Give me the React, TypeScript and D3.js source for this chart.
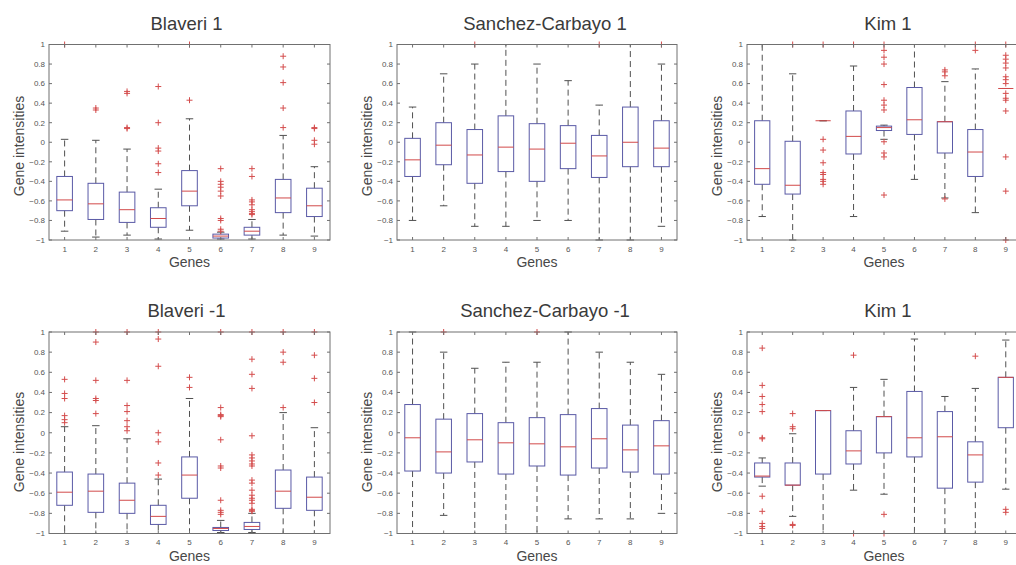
import React from "react";
import * as d3 from "d3";

// ---------- data ----------
const genes = ["1", "2", "3", "4", "5", "6", "7", "8", "9"];
const yTickValues = [-1, -0.8, -0.6, -0.4, -0.2, 0, 0.2, 0.4, 0.6, 0.8, 1];
const titles = ["Blaveri 1", "Sanchez-Carbayo 1", "Kim 1", "Blaveri -1", "Sanchez-Carbayo -1", "Kim 1"];

// stats per gene: [lowerWhisker, q1, median, q3, upperWhisker]
const blaveriPosStats = [
  [-0.91, -0.7, -0.59, -0.35, 0.03],
  [-0.97, -0.79, -0.63, -0.42, 0.02],
  [-0.95, -0.82, -0.69, -0.51, -0.07],
  [-0.99, -0.87, -0.78, -0.67, -0.48],
  [-0.9, -0.65, -0.5, -0.29, 0.24],
  [-0.99, -0.98, -0.96, -0.94, -0.92],
  [-0.99, -0.95, -0.91, -0.87, -0.79],
  [-0.95, -0.72, -0.57, -0.38, 0.07],
  [-0.96, -0.76, -0.65, -0.47, -0.25],
];
const blaveriPosOutliers = [
  [1.0],
  [0.33, 0.35],
  [0.14, 0.15, 0.5, 0.52],
  [-0.31, -0.22, -0.09, -0.06, 0.2, 0.57],
  [0.43, 1.0],
  [-0.27, -0.4, -0.43, -0.46, -0.5, -0.55, -0.78, -0.8, -0.89, -0.91],
  [-0.27, -0.35, -0.59, -0.61, -0.64, -0.69, -0.71, -0.73, -0.74],
  [0.15, 0.35, 0.61, 0.77, 0.88],
  [-0.02, 0.02, 0.14, 0.15],
];

const sanchezPosStats = [
  [-0.8, -0.35, -0.18, 0.04, 0.36],
  [-0.65, -0.23, -0.03, 0.2, 0.7],
  [-0.86, -0.42, -0.13, 0.13, 0.8],
  [-0.86, -0.3, -0.05, 0.27, 1.0],
  [-0.8, -0.4, -0.07, 0.19, 0.8],
  [-0.8, -0.27, -0.01, 0.17, 0.63],
  [-1.0, -0.36, -0.14, 0.07, 0.38],
  [-1.0, -0.25, 0.0, 0.36, 1.0],
  [-0.86, -0.25, -0.06, 0.22, 0.8],
];
const sanchezPosOutliers = [[], [], [1.0], [], [], [], [1.0], [], [1.0]];

const kimPosStats = [
  [-0.76, -0.43, -0.27, 0.22, 1.0],
  [-1.0, -0.53, -0.44, 0.01, 0.7],
  [0.22, 0.22, 0.22, 0.22, 0.22],
  [-0.76, -0.12, 0.06, 0.32, 0.78],
  [0.03, 0.12, 0.15, 0.165, 0.175],
  [-0.38, 0.08, 0.23, 0.56, 1.0],
  [-0.57, -0.11, 0.21, 0.21, 0.62],
  [-0.72, -0.35, -0.1, 0.13, 0.75],
  [0.55, 0.55, 0.55, 0.55, 0.55],
];
const kimPosOutliers = [
  [],
  [1.0],
  [1.0, 0.03, -0.08, -0.21, -0.31, -0.33, -0.38, -0.4, -0.43],
  [1.0],
  [1.0, 0.94, 0.87, 0.8, 0.59, 0.43, 0.38, 0.33, 0.005, -0.11, -0.15, -0.54],
  [],
  [0.74, 0.72, 0.68, -0.58],
  [1.0, 0.94],
  [1.0, 0.89, 0.85, 0.81, 0.76, 0.67, 0.64, 0.6, 0.5, 0.45, 0.43, 0.32, -0.15, -0.5, -1.0],
];

const blaveriNegStats = [
  [-1.0, -0.72, -0.59, -0.39, 0.06],
  [-1.0, -0.79, -0.58, -0.41, 0.07],
  [-1.0, -0.8, -0.67, -0.5, -0.06],
  [-1.0, -0.91, -0.83, -0.72, -0.46],
  [-1.0, -0.65, -0.42, -0.24, 0.34],
  [-0.99, -0.97, -0.95, -0.94, -0.87],
  [-0.99, -0.96, -0.93, -0.89, -0.8],
  [-1.0, -0.75, -0.58, -0.37, 0.2],
  [-1.0, -0.77, -0.64, -0.44, 0.05],
];
const blaveriNegOutliers = [
  [0.1, 0.13, 0.17, 0.34, 0.39, 0.53],
  [0.19, 0.32, 0.34, 0.52, 0.9, 1.0],
  [0.02, 0.06, 0.12, 0.21, 0.27, 0.52, 1.0],
  [-0.42, -0.3, -0.09, 0.0, 0.66, 0.93, 1.0],
  [0.45, 0.55],
  [-0.81, -0.79, -0.77, -0.67, -0.35, -0.33, -0.07, 0.16, 0.17, 0.18, 0.25, 1.0],
  [-0.78, -0.77, -0.76, -0.7, -0.67, -0.65, -0.62, -0.57, -0.5, -0.47, -0.33, -0.31, -0.28, -0.25, -0.22, -0.03, 0.44, 0.58, 0.73, 1.0],
  [0.25, 0.7, 0.8, 1.0],
  [0.3, 0.54, 0.77, 1.0],
];

const sanchezNegStats = [
  [-1.0, -0.38, -0.05, 0.28, 1.0],
  [-0.82, -0.4, -0.19, 0.135, 0.8],
  [-1.0, -0.29, -0.07, 0.19, 0.64],
  [-1.0, -0.41, -0.1, 0.1, 0.7],
  [-1.0, -0.33, -0.11, 0.15, 0.7],
  [-0.855, -0.42, -0.14, 0.18, 1.0],
  [-0.855, -0.35, -0.06, 0.24, 0.8],
  [-0.855, -0.39, -0.17, 0.076, 0.7],
  [-0.8, -0.41, -0.13, 0.12, 0.58],
];
const sanchezNegOutliers = [[], [1.0], [], [], [1.0], [], [], [], []];

const kimNegStats = [
  [-0.53, -0.44, -0.43, -0.3, -0.25],
  [-0.83, -0.52, -0.52, -0.3, -0.01],
  [-1.0, -0.41, 0.22, 0.22, 0.22],
  [-0.57, -0.31, -0.18, 0.02, 0.45],
  [-0.61, -0.2, 0.16, 0.16, 0.53],
  [-1.0, -0.24, -0.05, 0.41, 0.93],
  [-1.0, -0.55, -0.04, 0.21, 0.36],
  [-1.0, -0.49, -0.22, -0.09, 0.44],
  [-0.56, 0.05, 0.55, 0.55, 0.92],
];
const kimNegOutliers = [
  [0.84, 0.47, 0.36, 0.28, 0.21, -0.05, -0.06, -0.63, -0.78, -0.9, -0.93, -0.95],
  [0.19, 0.06, 0.04, -0.91, -0.92],
  [],
  [0.77, -1.0],
  [-0.81, -1.0],
  [],
  [],
  [0.76],
  [-0.76, -0.79],
];

const panelStats = [blaveriPosStats, sanchezPosStats, kimPosStats, blaveriNegStats, sanchezNegStats, kimNegStats];
const panelOutliers = [blaveriPosOutliers, sanchezPosOutliers, kimPosOutliers, blaveriNegOutliers, sanchezNegOutliers, kimNegOutliers];

// ---------- layout ----------
const W = 1016;
const H = 565;
const colLeft = [49, 397, 747];
const colRight = [330, 677, 1021];
const colTitleDx = [-3, 8, 4];
const rowTop = [44.5, 332];
const rowBottom = [240, 533.5];
const rowTitleY = [30, 317];
const rowYLabelY = [146, 442];

const FONT = "'Liberation Sans', Arial, Helvetica, sans-serif";
const BOX = "#5a5aa6";
const MED = "#d24a4a";
const OUT = "#d44d4d";
const WHISK = "#505050";
const FRAME = "#707070";

function Panel({ idx }: { idx: number }) {
  const col = idx % 3;
  const row = Math.floor(idx / 3);
  const left = colLeft[col];
  const right = colRight[col];
  const top = rowTop[row];
  const bottom = rowBottom[row];
  const x = d3.scaleLinear().domain([0.5, 9.5]).range([left, right]);
  const y = d3.scaleLinear().domain([-1, 1]).range([bottom, top]);
  const step = x(2) - x(1);
  const bw = step * 0.5;
  const cw = step * 0.24;
  const stats = panelStats[idx];
  const outs = panelOutliers[idx];
  const cx = (left + right) / 2;

  return (
    <g>
      {stats.map((s, i) => {
        const gx = x(i + 1);
        const [lo, q1, med, q3, hi] = s;
        return (
          <g key={i}>
            {hi > q3 && (
              <line x1={gx} x2={gx} y1={y(q3)} y2={y(hi)} stroke={WHISK} strokeWidth={1} strokeDasharray="6,4" />
            )}
            {lo < q1 && (
              <line x1={gx} x2={gx} y1={y(q1)} y2={y(lo)} stroke={WHISK} strokeWidth={1} strokeDasharray="6,4" />
            )}
            <line x1={gx - cw / 2} x2={gx + cw / 2} y1={y(hi)} y2={y(hi)} stroke={WHISK} strokeWidth={1} />
            <line x1={gx - cw / 2} x2={gx + cw / 2} y1={y(lo)} y2={y(lo)} stroke={WHISK} strokeWidth={1} />
            <rect x={gx - bw / 2} y={y(q3)} width={bw} height={Math.max(0, y(q1) - y(q3))} fill="none" stroke={BOX} strokeWidth={1} />
            <line x1={gx - bw / 2} x2={gx + bw / 2} y1={y(med)} y2={y(med)} stroke={MED} strokeWidth={1} />
          </g>
        );
      })}
      {outs.map((arr, i) =>
        arr.map((v, j) => {
          const gx = x(i + 1);
          const gy = y(v);
          return (
            <g key={`${i}-${j}`} stroke={OUT} strokeWidth={1}>
              <line x1={gx - 3} x2={gx + 3} y1={gy} y2={gy} />
              <line x1={gx} x2={gx} y1={gy - 3} y2={gy + 3} />
            </g>
          );
        })
      )}
      <rect x={left} y={top} width={right - left} height={bottom - top} fill="none" stroke={FRAME} strokeWidth={1} />
      {yTickValues.map((t) => (
        <g key={t}>
          <line x1={left} x2={left + 3} y1={y(t)} y2={y(t)} stroke={FRAME} />
          <line x1={right - 3} x2={right} y1={y(t)} y2={y(t)} stroke={FRAME} />
          <text x={left - 4} y={y(t)} dy="0.35em" textAnchor="end" fontSize={8} fill="#555" fontFamily={FONT}>
            {d3.format("")(t)}
          </text>
        </g>
      ))}
      {genes.map((g, i) => (
        <g key={g}>
          <line x1={x(i + 1)} x2={x(i + 1)} y1={bottom} y2={bottom - 3} stroke={FRAME} />
          <line x1={x(i + 1)} x2={x(i + 1)} y1={top} y2={top + 3} stroke={FRAME} />
          <text x={x(i + 1)} y={bottom + 11.5} textAnchor="middle" fontSize={8} fill="#555" fontFamily={FONT}>
            {g}
          </text>
        </g>
      ))}
      <text x={cx + colTitleDx[col]} y={rowTitleY[row]} textAnchor="middle" fontSize={18.5} fill="#3a3a3a" fontFamily={FONT}>
        {titles[idx]}
      </text>
      <text x={cx} y={bottom + 27} textAnchor="middle" fontSize={14} fill="#484848" fontFamily={FONT}>
        Genes
      </text>
      <text
        transform={`translate(${left - 30},${rowYLabelY[row]}) rotate(-90)`}
        textAnchor="middle"
        dy="0.35em"
        fontSize={14}
        fill="#484848"
        fontFamily={FONT}
      >
        Gene intensities
      </text>
    </g>
  );
}

export default function App() {
  return (
    <svg
      width={W}
      height={H}
      viewBox={`0 0 ${W} ${H}`}
      style={{ position: "absolute", left: 0, top: 0, background: "#fff", display: "block" }}
    >
      <rect x={0} y={0} width={W} height={H} fill="#fff" />
      {titles.map((_, i) => (
        <Panel key={i} idx={i} />
      ))}
    </svg>
  );
}
